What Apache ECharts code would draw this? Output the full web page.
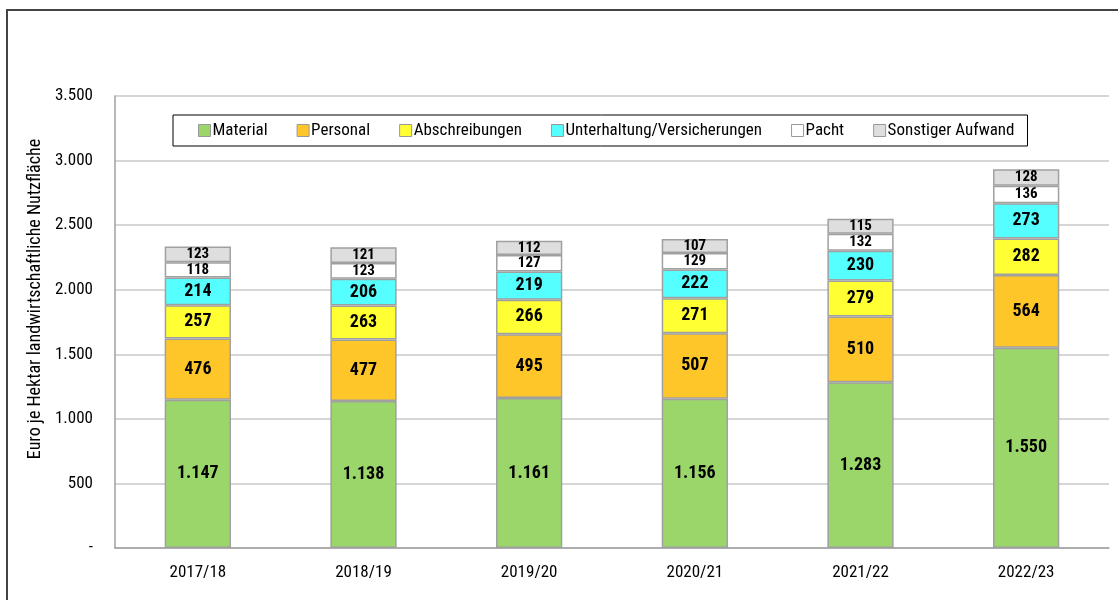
<!DOCTYPE html>
<html>
<head>
<meta charset="utf-8">
<script src="https://cdn.jsdelivr.net/npm/echarts@6/dist/echarts.min.js"></script>
<style>
  html, body { margin: 0; padding: 0; background: #fff; }
  #chart { width: 1118px; height: 600px; }
</style>
</head>
<body>
<div id="chart"></div>
<script>
// Kosten je Hektar, Wirtschaftsjahre
const years = ['2017/18', '2018/19', '2019/20', '2020/21', '2021/22', '2022/23']
const material = [1147, 1138, 1161, 1156, 1283, 1550]
const personal = [476, 477, 495, 507, 510, 564]
const abschreibungen = [257, 263, 266, 271, 279, 282]
const unterhaltung = [214, 206, 219, 222, 230, 273]
const pacht = [118, 123, 127, 129, 132, 136]
const sonstiges = [123, 121, 112, 107, 115, 128]

const FONT = '"Roboto Condensed", "Liberation Sans Narrow", "Arial Narrow", sans-serif'
const fmt = v => String(v).replace(/\B(?=(\d{3})+(?!\d))/g, '.')

const chart = echarts.init(document.getElementById('chart'))

const mkSeries = (name, data, color, small) => ({
  name,
  type: 'bar',
  stack: 'total',
  data,
  barWidth: '40%',
  itemStyle: { color, borderColor: '#a0a0a0', borderWidth: 1.5 },
  label: {
    show: true,
    position: 'inside',
    formatter: p => fmt(p.value),
    color: '#000',
    fontFamily: FONT,
    fontWeight: 'bold',
    fontSize: small ? 15 : 18
  }
})

const option = {
  animation: false,
  textStyle: { fontFamily: FONT },
  graphic: [{
    type: 'rect',
    shape: { x: 7, y: 10, width: 1200, height: 700 },
    style: { fill: 'none', stroke: '#444', lineWidth: 2 },
    silent: true
  }],
  legend: {
    left: 173,
    top: 115,
    width: 880,
    padding: [7, 13, 7, 25],
    itemGap: 29,
    itemWidth: 12,
    itemHeight: 12,
    borderColor: '#000',
    borderWidth: 1,
    icon: 'rect',
    textStyle: { fontSize: 17, color: '#000', padding: [0, 0, 0, -3] },
    itemStyle: { borderColor: '#999', borderWidth: 1 }
  },
  grid: { left: 115, right: 9, top: 96, bottom: 52, containLabel: false },
  xAxis: {
    type: 'category',
    data: years,
    axisLine: { lineStyle: { color: '#a0a0a0', width: 1.5 } },
    axisTick: { show: false },
    axisLabel: { color: '#000', fontSize: 17, margin: 16 }
  },
  yAxis: {
    type: 'value',
    min: 0,
    max: 3500,
    interval: 500,
    name: 'Euro je Hektar landwirtschaftliche Nutzfläche',
    nameLocation: 'middle',
    nameGap: 69,
    nameTextStyle: { color: '#000', fontSize: 18, padding: [0, 0, 0, 46] },
    axisLine: { show: true, lineStyle: { color: '#a0a0a0', width: 1.5 } },
    axisTick: { show: false },
    axisLabel: {
      color: '#000',
      fontSize: 17,
      margin: 22,
      formatter: v => v === 0 ? '-' : fmt(v)
    },
    splitLine: { lineStyle: { color: '#c8c8c8', width: 1.5 } }
  },
  series: [
    mkSeries('Material', material, '#9bd66b', false),
    mkSeries('Personal', personal, '#ffc62a', false),
    mkSeries('Abschreibungen', abschreibungen, '#ffff33', false),
    mkSeries('Unterhaltung/Versicherungen', unterhaltung, '#55ffff', false),
    mkSeries('Pacht', pacht, '#ffffff', true),
    mkSeries('Sonstiger Aufwand', sonstiges, '#dedede', true)
  ]
}

chart.setOption(option)
</script>
</body>
</html>
